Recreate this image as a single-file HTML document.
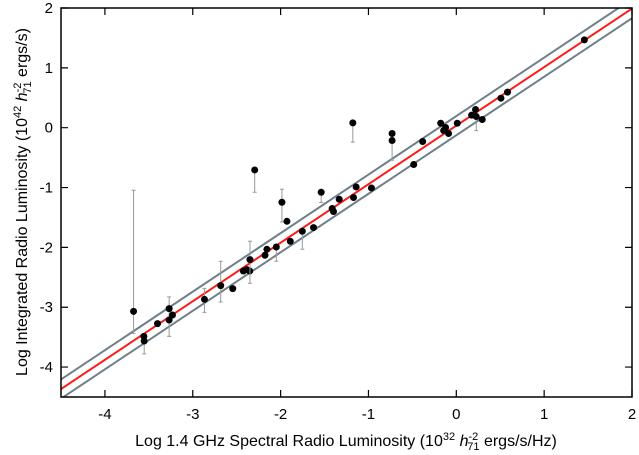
<!DOCTYPE html>
<html><head><meta charset="utf-8"><style>
html,body{margin:0;padding:0;background:#fff;}
svg{display:block;font-family:"Liberation Sans",sans-serif;}
</style></head><body>
<svg id="chart" width="639" height="455" viewBox="0 0 639 455" xmlns="http://www.w3.org/2000/svg">
<g id="plot"></g>
<text x="346" y="446" font-size="16" text-anchor="middle">Log 1.4 GHz Spectral Radio Luminosity (10<tspan font-size="11" dy="-6">32</tspan><tspan dy="6"> </tspan><tspan font-style="italic">h</tspan><tspan font-size="11" dy="-6">-2</tspan><tspan font-size="11" dx="-11" dy="10">71</tspan><tspan dy="-4"> ergs/s/Hz)</tspan></text>
<text transform="translate(27,202) rotate(-90)" font-size="16" text-anchor="middle">Log Integrated Radio Luminosity (10<tspan font-size="11" dy="-6">42</tspan><tspan dy="6"> </tspan><tspan font-style="italic">h</tspan><tspan font-size="11" dy="-6">-2</tspan><tspan font-size="11" dx="-11" dy="10">71</tspan><tspan dy="-4"> ergs/s)</tspan></text>
</svg>
<script>
const xTicks = [-4,-3,-2,-1,0,1,2];
const yTicks = [-4,-3,-2,-1,0,1,2];
const xVals = [-3.674,-3.557,-3.553,-3.401,-3.269,-3.269,-3.231,-2.867,-2.682,-2.545,-2.424,-2.386,-2.352,-2.349,-2.295,-2.178,-2.156,-2.049,-1.985,-1.928,-1.890,-1.753,-1.625,-1.538,-1.413,-1.398,-1.333,-1.170,-1.140,-1.178,-0.966,-0.731,-0.731,-0.485,-0.383,-0.178,-0.122,-0.144,-0.088,0.011,0.174,0.219,0.227,0.295,0.508,0.583,1.458];
const yVals = [-3.069,-3.487,-3.565,-3.274,-3.023,-3.214,-3.130,-2.868,-2.639,-2.689,-2.395,-2.371,-2.395,-2.204,-0.706,-2.132,-2.032,-1.993,-1.246,-1.564,-1.898,-1.731,-1.669,-1.079,-1.351,-1.401,-1.196,-1.167,-0.990,0.080,-1.007,-0.097,-0.214,-0.615,-0.231,0.075,0.003,-0.047,-0.097,0.075,0.209,0.304,0.187,0.137,0.493,0.594,1.468];
const yErrLow = [-3.436,null,-3.779,null,-3.487,null,null,-3.085,-2.913,null,null,null,null,-2.600,-1.079,null,null,-2.232,-1.575,null,null,-2.032,null,-1.25,null,null,null,null,null,-0.242,null,null,-0.543,null,null,null,null,null,null,null,null,null,-0.05,null,null,null,null];
const yErrHigh = [-1.045,null,null,null,-2.826,null,null,-2.684,-2.232,null,null,null,null,-1.898,null,null,null,null,-1.028,null,null,null,null,null,null,null,null,null,null,null,null,null,null,null,null,null,null,null,null,null,null,null,null,null,null,null,null];
const fitSlope = [0.978];
const fitIntercept = [0.034];
const bandOffset = [0.16];

const X0=61,X1=632,Y0=397,Y1=8,xmin=-4.5,xmax=2,ymin=-4.5,ymax=2;
const sx=v=>X0+(v-xmin)/(xmax-xmin)*(X1-X0);
const sy=v=>Y0-(v-ymin)/(ymax-ymin)*(Y0-Y1);
const NS="http://www.w3.org/2000/svg";
const g=document.getElementById('plot');
function mk(t,a){const e=document.createElementNS(NS,t);for(const k in a)e.setAttribute(k,a[k]);g.appendChild(e);return e;}
const defs=document.createElementNS(NS,'defs');
defs.innerHTML='<clipPath id="clip"><rect x="61" y="8" width="571" height="389"/></clipPath>';
g.appendChild(defs);
const lines=document.createElementNS(NS,'g');lines.setAttribute('clip-path','url(#clip)');g.appendChild(lines);
function fitLine(off,col,name){
  const l=document.createElementNS(NS,'line');
  l.setAttribute('x1',sx(xmin));l.setAttribute('y1',sy(fitSlope[0]*xmin+fitIntercept[0]+off));
  l.setAttribute('x2',sx(xmax));l.setAttribute('y2',sy(fitSlope[0]*xmax+fitIntercept[0]+off));
  l.setAttribute('stroke',col);l.setAttribute('stroke-width','2');
  
  
  lines.appendChild(l);
}
fitLine(bandOffset[0],'#6e8088','upper-band-line');
fitLine(-bandOffset[0],'#6e8088','lower-band-line');
fitLine(0,'#ff1a1a','fit-line');
for(let i=0;i<xVals.length;i++){
  const px=sx(xVals[i]);
  if(yErrLow[i]!==null||yErrHigh[i]!==null){
    const lo=yErrLow[i]!==null?yErrLow[i]:yVals[i], hi=yErrHigh[i]!==null?yErrHigh[i]:yVals[i];
    const eb=mk('path',{d:`M${px},${sy(lo)}V${sy(hi)}M${px-2},${sy(lo)}h4M${px-2},${sy(hi)}h4`,stroke:'#999',fill:'none','stroke-width':1});
    
    
  }
  const c=mk('circle',{cx:px,cy:sy(yVals[i]),r:3.5,fill:'#000'});
  
  
}
const fr=mk('rect',{x:X0,y:Y1,width:X1-X0,height:Y0-Y1,fill:'none',stroke:'#000','stroke-width':1.5});


xTicks.forEach(v=>{
  const p=sx(v);
  const t=mk('path',{d:`M${p},${Y0}v-7M${p},${Y1}v7`,stroke:'#000','stroke-width':1.2});
  
  
  const l=mk('text',{x:p,y:419,'font-size':15,'text-anchor':'middle'});l.textContent=v;
  
  
});
yTicks.forEach(v=>{
  const p=sy(v);
  const t=mk('path',{d:`M${X0},${p}h7M${X1},${p}h-7`,stroke:'#000','stroke-width':1.2});
  
  
  const l=mk('text',{x:53,y:p+5,'font-size':15,'text-anchor':'end'});l.textContent=v;
  
  
});
</script>
</body></html>
